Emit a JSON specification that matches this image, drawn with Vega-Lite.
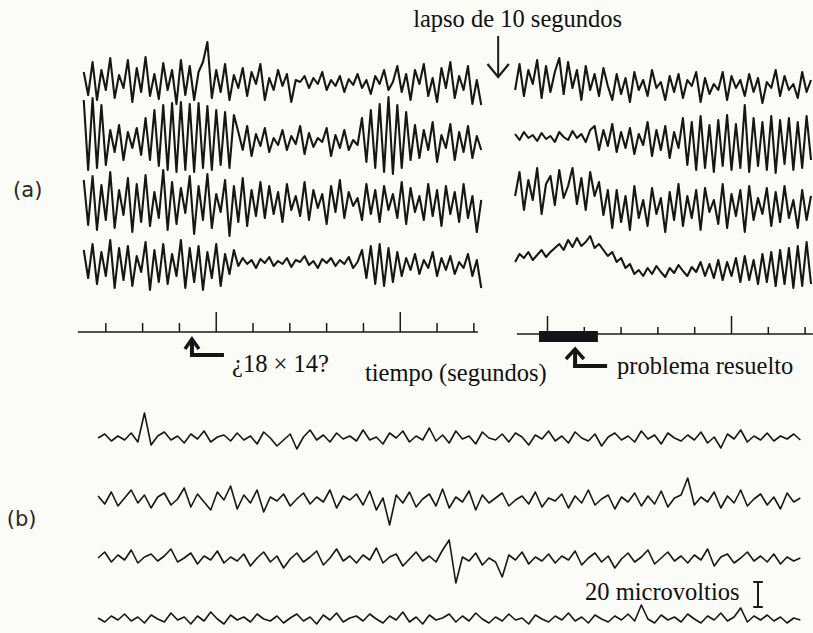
{
"$schema":"https://vega.github.io/schema/vega-lite/v6.json",
"width":813,"height":633,"autosize":"none","padding":0,
"background":"#fbfbf8",
"config":{"view":{"stroke":null}},
"datasets":{
"L1":[{"t":40,"y":72},{"t":52,"y":95},{"t":64,"y":62},{"t":76,"y":100},{"t":88,"y":70},{"t":100,"y":90},{"t":112,"y":58},{"t":124,"y":98},{"t":136,"y":75},{"t":148,"y":88},{"t":160,"y":60},{"t":172,"y":102},{"t":184,"y":68},{"t":196,"y":92},{"t":208,"y":57},{"t":220,"y":96},{"t":232,"y":74},{"t":244,"y":99},{"t":256,"y":63},{"t":268,"y":90},{"t":280,"y":70},{"t":292,"y":104},{"t":304,"y":60},{"t":316,"y":95},{"t":328,"y":66},{"t":340,"y":100},{"t":352,"y":72},{"t":364,"y":62},{"t":376,"y":42},{"t":388,"y":98},{"t":400,"y":70},{"t":412,"y":92},{"t":424,"y":64},{"t":436,"y":100},{"t":448,"y":75},{"t":460,"y":88},{"t":472,"y":68},{"t":484,"y":96},{"t":496,"y":72},{"t":508,"y":84},{"t":520,"y":64},{"t":532,"y":100},{"t":544,"y":78},{"t":556,"y":90},{"t":568,"y":70},{"t":580,"y":86},{"t":592,"y":74},{"t":604,"y":102},{"t":616,"y":80},{"t":628,"y":82},{"t":640,"y":76},{"t":652,"y":88},{"t":664,"y":78},{"t":676,"y":84},{"t":688,"y":72},{"t":700,"y":90},{"t":712,"y":80},{"t":724,"y":86},{"t":736,"y":76},{"t":748,"y":92},{"t":760,"y":79},{"t":772,"y":85},{"t":784,"y":74},{"t":796,"y":88},{"t":808,"y":80},{"t":820,"y":94},{"t":832,"y":76},{"t":844,"y":84},{"t":856,"y":70},{"t":868,"y":90},{"t":880,"y":82},{"t":892,"y":66},{"t":904,"y":92},{"t":916,"y":74},{"t":928,"y":100},{"t":940,"y":70},{"t":952,"y":84},{"t":964,"y":64},{"t":976,"y":96},{"t":988,"y":78},{"t":1000,"y":102},{"t":1012,"y":68},{"t":1024,"y":88},{"t":1036,"y":62},{"t":1048,"y":98},{"t":1060,"y":76},{"t":1072,"y":90},{"t":1084,"y":66},{"t":1096,"y":104},{"t":1108,"y":80},{"t":1120,"y":105}],
"L2":[{"t":40,"y":100},{"t":52,"y":170},{"t":64,"y":98},{"t":76,"y":168},{"t":88,"y":105},{"t":100,"y":165},{"t":112,"y":130},{"t":124,"y":152},{"t":136,"y":125},{"t":148,"y":160},{"t":160,"y":132},{"t":172,"y":148},{"t":184,"y":128},{"t":196,"y":155},{"t":208,"y":118},{"t":220,"y":160},{"t":232,"y":110},{"t":244,"y":166},{"t":256,"y":105},{"t":268,"y":170},{"t":280,"y":103},{"t":292,"y":172},{"t":304,"y":102},{"t":316,"y":170},{"t":328,"y":104},{"t":340,"y":172},{"t":352,"y":103},{"t":364,"y":168},{"t":376,"y":106},{"t":388,"y":170},{"t":400,"y":110},{"t":412,"y":165},{"t":424,"y":112},{"t":436,"y":168},{"t":448,"y":115},{"t":460,"y":132},{"t":472,"y":150},{"t":484,"y":126},{"t":496,"y":156},{"t":508,"y":134},{"t":520,"y":146},{"t":532,"y":128},{"t":544,"y":152},{"t":556,"y":138},{"t":568,"y":145},{"t":580,"y":130},{"t":592,"y":150},{"t":604,"y":136},{"t":616,"y":144},{"t":628,"y":126},{"t":640,"y":154},{"t":652,"y":133},{"t":664,"y":147},{"t":676,"y":138},{"t":688,"y":142},{"t":700,"y":128},{"t":712,"y":156},{"t":724,"y":135},{"t":736,"y":148},{"t":748,"y":130},{"t":760,"y":150},{"t":772,"y":140},{"t":784,"y":145},{"t":796,"y":118},{"t":808,"y":162},{"t":820,"y":110},{"t":832,"y":168},{"t":844,"y":104},{"t":856,"y":172},{"t":868,"y":97},{"t":880,"y":174},{"t":892,"y":105},{"t":904,"y":168},{"t":916,"y":112},{"t":928,"y":160},{"t":940,"y":125},{"t":952,"y":158},{"t":964,"y":130},{"t":976,"y":150},{"t":988,"y":122},{"t":1000,"y":162},{"t":1012,"y":135},{"t":1024,"y":148},{"t":1036,"y":124},{"t":1048,"y":160},{"t":1060,"y":132},{"t":1072,"y":152},{"t":1084,"y":126},{"t":1096,"y":158},{"t":1108,"y":136},{"t":1120,"y":150}],
"L3":[{"t":40,"y":180},{"t":52,"y":225},{"t":64,"y":176},{"t":76,"y":230},{"t":88,"y":185},{"t":100,"y":220},{"t":112,"y":172},{"t":124,"y":228},{"t":136,"y":190},{"t":148,"y":215},{"t":160,"y":178},{"t":172,"y":232},{"t":184,"y":184},{"t":196,"y":222},{"t":208,"y":175},{"t":220,"y":226},{"t":232,"y":192},{"t":244,"y":218},{"t":256,"y":170},{"t":268,"y":230},{"t":280,"y":182},{"t":292,"y":224},{"t":304,"y":188},{"t":316,"y":213},{"t":328,"y":176},{"t":340,"y":234},{"t":352,"y":186},{"t":364,"y":220},{"t":376,"y":174},{"t":388,"y":228},{"t":400,"y":194},{"t":412,"y":212},{"t":424,"y":180},{"t":436,"y":236},{"t":448,"y":186},{"t":460,"y":222},{"t":472,"y":178},{"t":484,"y":226},{"t":496,"y":190},{"t":508,"y":216},{"t":520,"y":182},{"t":532,"y":218},{"t":544,"y":186},{"t":556,"y":214},{"t":568,"y":192},{"t":580,"y":222},{"t":592,"y":184},{"t":604,"y":210},{"t":616,"y":196},{"t":628,"y":216},{"t":640,"y":182},{"t":652,"y":220},{"t":664,"y":190},{"t":676,"y":208},{"t":688,"y":194},{"t":700,"y":224},{"t":712,"y":186},{"t":724,"y":212},{"t":736,"y":180},{"t":748,"y":218},{"t":760,"y":192},{"t":772,"y":206},{"t":784,"y":198},{"t":796,"y":220},{"t":808,"y":184},{"t":820,"y":214},{"t":832,"y":190},{"t":844,"y":222},{"t":856,"y":186},{"t":868,"y":210},{"t":880,"y":194},{"t":892,"y":218},{"t":904,"y":182},{"t":916,"y":224},{"t":928,"y":188},{"t":940,"y":212},{"t":952,"y":196},{"t":964,"y":220},{"t":976,"y":184},{"t":988,"y":216},{"t":1000,"y":190},{"t":1012,"y":226},{"t":1024,"y":186},{"t":1036,"y":214},{"t":1048,"y":192},{"t":1060,"y":222},{"t":1072,"y":184},{"t":1084,"y":218},{"t":1096,"y":196},{"t":1108,"y":232},{"t":1120,"y":200}],
"L4":[{"t":40,"y":250},{"t":52,"y":278},{"t":64,"y":244},{"t":76,"y":284},{"t":88,"y":252},{"t":100,"y":276},{"t":112,"y":240},{"t":124,"y":288},{"t":136,"y":248},{"t":148,"y":280},{"t":160,"y":246},{"t":172,"y":286},{"t":184,"y":256},{"t":196,"y":272},{"t":208,"y":242},{"t":220,"y":290},{"t":232,"y":250},{"t":244,"y":282},{"t":256,"y":244},{"t":268,"y":284},{"t":280,"y":254},{"t":292,"y":276},{"t":304,"y":240},{"t":316,"y":288},{"t":328,"y":248},{"t":340,"y":282},{"t":352,"y":246},{"t":364,"y":290},{"t":376,"y":252},{"t":388,"y":278},{"t":400,"y":244},{"t":412,"y":286},{"t":424,"y":254},{"t":436,"y":274},{"t":448,"y":250},{"t":460,"y":266},{"t":472,"y":258},{"t":484,"y":264},{"t":496,"y":260},{"t":508,"y":268},{"t":520,"y":259},{"t":532,"y":263},{"t":544,"y":257},{"t":556,"y":266},{"t":568,"y":261},{"t":580,"y":264},{"t":592,"y":258},{"t":604,"y":267},{"t":616,"y":260},{"t":628,"y":262},{"t":640,"y":256},{"t":652,"y":265},{"t":664,"y":261},{"t":676,"y":268},{"t":688,"y":259},{"t":700,"y":263},{"t":712,"y":258},{"t":724,"y":266},{"t":736,"y":260},{"t":748,"y":264},{"t":760,"y":257},{"t":772,"y":268},{"t":784,"y":262},{"t":796,"y":250},{"t":808,"y":278},{"t":820,"y":246},{"t":832,"y":284},{"t":844,"y":244},{"t":856,"y":286},{"t":868,"y":248},{"t":880,"y":282},{"t":892,"y":252},{"t":904,"y":276},{"t":916,"y":258},{"t":928,"y":270},{"t":940,"y":254},{"t":952,"y":274},{"t":964,"y":260},{"t":976,"y":268},{"t":988,"y":252},{"t":1000,"y":276},{"t":1012,"y":258},{"t":1024,"y":270},{"t":1036,"y":256},{"t":1048,"y":274},{"t":1060,"y":262},{"t":1072,"y":268},{"t":1084,"y":254},{"t":1096,"y":276},{"t":1108,"y":260},{"t":1120,"y":288}],
"R1":[{"t":1212,"y":90},{"t":1224,"y":64},{"t":1236,"y":96},{"t":1248,"y":70},{"t":1260,"y":84},{"t":1272,"y":60},{"t":1284,"y":98},{"t":1296,"y":66},{"t":1308,"y":92},{"t":1320,"y":72},{"t":1332,"y":58},{"t":1344,"y":94},{"t":1356,"y":62},{"t":1368,"y":88},{"t":1380,"y":70},{"t":1392,"y":100},{"t":1404,"y":66},{"t":1416,"y":90},{"t":1428,"y":74},{"t":1440,"y":96},{"t":1452,"y":68},{"t":1464,"y":86},{"t":1476,"y":100},{"t":1488,"y":74},{"t":1500,"y":94},{"t":1512,"y":78},{"t":1524,"y":102},{"t":1536,"y":72},{"t":1548,"y":90},{"t":1560,"y":80},{"t":1572,"y":96},{"t":1584,"y":70},{"t":1596,"y":88},{"t":1608,"y":82},{"t":1620,"y":100},{"t":1632,"y":76},{"t":1644,"y":92},{"t":1656,"y":74},{"t":1668,"y":98},{"t":1680,"y":80},{"t":1692,"y":86},{"t":1704,"y":72},{"t":1716,"y":102},{"t":1728,"y":78},{"t":1740,"y":94},{"t":1752,"y":84},{"t":1764,"y":90},{"t":1776,"y":72},{"t":1788,"y":100},{"t":1800,"y":76},{"t":1812,"y":88},{"t":1824,"y":80},{"t":1836,"y":96},{"t":1848,"y":74},{"t":1860,"y":92},{"t":1872,"y":78},{"t":1884,"y":103},{"t":1896,"y":82},{"t":1908,"y":88},{"t":1920,"y":70},{"t":1932,"y":96},{"t":1944,"y":76},{"t":1956,"y":90},{"t":1968,"y":84},{"t":1980,"y":98},{"t":1992,"y":72},{"t":2004,"y":92},{"t":2016,"y":80}],
"R2":[{"t":1212,"y":134},{"t":1224,"y":140},{"t":1236,"y":132},{"t":1248,"y":138},{"t":1260,"y":135},{"t":1272,"y":141},{"t":1284,"y":133},{"t":1296,"y":139},{"t":1308,"y":136},{"t":1320,"y":142},{"t":1332,"y":132},{"t":1344,"y":137},{"t":1356,"y":140},{"t":1368,"y":131},{"t":1380,"y":138},{"t":1392,"y":134},{"t":1404,"y":142},{"t":1416,"y":130},{"t":1428,"y":126},{"t":1440,"y":150},{"t":1452,"y":130},{"t":1464,"y":146},{"t":1476,"y":124},{"t":1488,"y":152},{"t":1500,"y":132},{"t":1512,"y":148},{"t":1524,"y":128},{"t":1536,"y":154},{"t":1548,"y":134},{"t":1560,"y":145},{"t":1572,"y":122},{"t":1584,"y":156},{"t":1596,"y":130},{"t":1608,"y":150},{"t":1620,"y":126},{"t":1632,"y":158},{"t":1644,"y":132},{"t":1656,"y":148},{"t":1668,"y":118},{"t":1680,"y":165},{"t":1692,"y":122},{"t":1704,"y":170},{"t":1716,"y":116},{"t":1728,"y":168},{"t":1740,"y":125},{"t":1752,"y":172},{"t":1764,"y":120},{"t":1776,"y":166},{"t":1788,"y":115},{"t":1800,"y":170},{"t":1812,"y":124},{"t":1824,"y":168},{"t":1836,"y":105},{"t":1848,"y":172},{"t":1860,"y":118},{"t":1872,"y":166},{"t":1884,"y":122},{"t":1896,"y":170},{"t":1908,"y":116},{"t":1920,"y":173},{"t":1932,"y":120},{"t":1944,"y":164},{"t":1956,"y":118},{"t":1968,"y":170},{"t":1980,"y":122},{"t":1992,"y":168},{"t":2004,"y":116},{"t":2016,"y":160}],
"R3":[{"t":1212,"y":196},{"t":1224,"y":172},{"t":1236,"y":210},{"t":1248,"y":180},{"t":1260,"y":200},{"t":1272,"y":168},{"t":1284,"y":214},{"t":1296,"y":184},{"t":1308,"y":176},{"t":1320,"y":205},{"t":1332,"y":170},{"t":1344,"y":198},{"t":1356,"y":186},{"t":1368,"y":168},{"t":1380,"y":204},{"t":1392,"y":178},{"t":1404,"y":210},{"t":1416,"y":172},{"t":1428,"y":196},{"t":1440,"y":182},{"t":1452,"y":215},{"t":1464,"y":190},{"t":1476,"y":228},{"t":1488,"y":190},{"t":1500,"y":222},{"t":1512,"y":196},{"t":1524,"y":230},{"t":1536,"y":186},{"t":1548,"y":218},{"t":1560,"y":200},{"t":1572,"y":226},{"t":1584,"y":188},{"t":1596,"y":214},{"t":1608,"y":198},{"t":1620,"y":232},{"t":1632,"y":192},{"t":1644,"y":220},{"t":1656,"y":184},{"t":1668,"y":226},{"t":1680,"y":196},{"t":1692,"y":218},{"t":1704,"y":190},{"t":1716,"y":230},{"t":1728,"y":188},{"t":1740,"y":212},{"t":1752,"y":200},{"t":1764,"y":224},{"t":1776,"y":184},{"t":1788,"y":228},{"t":1800,"y":194},{"t":1812,"y":216},{"t":1824,"y":190},{"t":1836,"y":232},{"t":1848,"y":186},{"t":1860,"y":220},{"t":1872,"y":198},{"t":1884,"y":214},{"t":1896,"y":188},{"t":1908,"y":226},{"t":1920,"y":192},{"t":1932,"y":222},{"t":1944,"y":186},{"t":1956,"y":218},{"t":1968,"y":200},{"t":1980,"y":228},{"t":1992,"y":190},{"t":2004,"y":220},{"t":2016,"y":196}],
"R4":[{"t":1212,"y":262},{"t":1224,"y":254},{"t":1236,"y":258},{"t":1248,"y":252},{"t":1260,"y":260},{"t":1272,"y":255},{"t":1284,"y":250},{"t":1296,"y":257},{"t":1308,"y":252},{"t":1320,"y":248},{"t":1332,"y":244},{"t":1344,"y":250},{"t":1356,"y":240},{"t":1368,"y":247},{"t":1380,"y":238},{"t":1392,"y":246},{"t":1404,"y":242},{"t":1416,"y":236},{"t":1428,"y":248},{"t":1440,"y":244},{"t":1452,"y":250},{"t":1464,"y":256},{"t":1476,"y":252},{"t":1488,"y":262},{"t":1500,"y":258},{"t":1512,"y":268},{"t":1524,"y":264},{"t":1536,"y":274},{"t":1548,"y":270},{"t":1560,"y":276},{"t":1572,"y":268},{"t":1584,"y":274},{"t":1596,"y":266},{"t":1608,"y":272},{"t":1620,"y":277},{"t":1632,"y":268},{"t":1644,"y":273},{"t":1656,"y":265},{"t":1668,"y":271},{"t":1680,"y":276},{"t":1692,"y":267},{"t":1704,"y":272},{"t":1716,"y":262},{"t":1728,"y":276},{"t":1740,"y":264},{"t":1752,"y":278},{"t":1764,"y":260},{"t":1776,"y":280},{"t":1788,"y":262},{"t":1800,"y":276},{"t":1812,"y":258},{"t":1824,"y":282},{"t":1836,"y":256},{"t":1848,"y":280},{"t":1860,"y":260},{"t":1872,"y":284},{"t":1884,"y":254},{"t":1896,"y":282},{"t":1908,"y":252},{"t":1920,"y":286},{"t":1932,"y":250},{"t":1944,"y":284},{"t":1956,"y":248},{"t":1968,"y":288},{"t":1980,"y":246},{"t":1992,"y":286},{"t":2004,"y":242},{"t":2016,"y":284}],
"B1":[{"t":79,"y":438},{"t":97,"y":434},{"t":115,"y":441},{"t":133,"y":436},{"t":151,"y":440},{"t":169,"y":433},{"t":187,"y":442},{"t":205,"y":413},{"t":223,"y":445},{"t":241,"y":436},{"t":259,"y":432},{"t":277,"y":440},{"t":295,"y":436},{"t":313,"y":443},{"t":331,"y":434},{"t":349,"y":439},{"t":367,"y":431},{"t":385,"y":442},{"t":403,"y":437},{"t":421,"y":435},{"t":439,"y":441},{"t":457,"y":433},{"t":475,"y":440},{"t":493,"y":436},{"t":511,"y":444},{"t":529,"y":432},{"t":547,"y":438},{"t":565,"y":446},{"t":583,"y":440},{"t":601,"y":434},{"t":619,"y":449},{"t":637,"y":437},{"t":655,"y":430},{"t":673,"y":440},{"t":691,"y":435},{"t":709,"y":442},{"t":727,"y":433},{"t":745,"y":439},{"t":763,"y":436},{"t":781,"y":441},{"t":799,"y":430},{"t":817,"y":440},{"t":835,"y":437},{"t":853,"y":444},{"t":871,"y":433},{"t":889,"y":438},{"t":907,"y":431},{"t":925,"y":442},{"t":943,"y":436},{"t":961,"y":440},{"t":979,"y":428},{"t":997,"y":441},{"t":1015,"y":435},{"t":1033,"y":443},{"t":1051,"y":431},{"t":1069,"y":439},{"t":1087,"y":436},{"t":1105,"y":444},{"t":1123,"y":432},{"t":1141,"y":438},{"t":1159,"y":440},{"t":1177,"y":434},{"t":1195,"y":442},{"t":1213,"y":433},{"t":1231,"y":437},{"t":1249,"y":445},{"t":1267,"y":435},{"t":1285,"y":439},{"t":1303,"y":431},{"t":1321,"y":441},{"t":1339,"y":436},{"t":1357,"y":443},{"t":1375,"y":432},{"t":1393,"y":438},{"t":1411,"y":441},{"t":1429,"y":434},{"t":1447,"y":446},{"t":1465,"y":437},{"t":1483,"y":433},{"t":1501,"y":440},{"t":1519,"y":436},{"t":1537,"y":442},{"t":1555,"y":431},{"t":1573,"y":439},{"t":1591,"y":435},{"t":1609,"y":444},{"t":1627,"y":433},{"t":1645,"y":438},{"t":1663,"y":441},{"t":1681,"y":435},{"t":1699,"y":440},{"t":1717,"y":432},{"t":1735,"y":443},{"t":1753,"y":437},{"t":1771,"y":448},{"t":1789,"y":434},{"t":1807,"y":439},{"t":1825,"y":430},{"t":1843,"y":442},{"t":1861,"y":436},{"t":1879,"y":440},{"t":1897,"y":433},{"t":1915,"y":441},{"t":1933,"y":436},{"t":1951,"y":439},{"t":1969,"y":434},{"t":1987,"y":440}],
"B2":[{"t":79,"y":496},{"t":97,"y":504},{"t":115,"y":492},{"t":133,"y":506},{"t":151,"y":498},{"t":169,"y":490},{"t":187,"y":503},{"t":205,"y":495},{"t":223,"y":508},{"t":241,"y":497},{"t":259,"y":493},{"t":277,"y":505},{"t":295,"y":499},{"t":313,"y":488},{"t":331,"y":507},{"t":349,"y":494},{"t":367,"y":502},{"t":385,"y":510},{"t":403,"y":492},{"t":421,"y":500},{"t":439,"y":486},{"t":457,"y":509},{"t":475,"y":495},{"t":493,"y":503},{"t":511,"y":490},{"t":529,"y":512},{"t":547,"y":497},{"t":565,"y":501},{"t":583,"y":494},{"t":601,"y":506},{"t":619,"y":499},{"t":637,"y":493},{"t":655,"y":504},{"t":673,"y":497},{"t":691,"y":502},{"t":709,"y":490},{"t":727,"y":508},{"t":745,"y":496},{"t":763,"y":500},{"t":781,"y":494},{"t":799,"y":505},{"t":817,"y":491},{"t":835,"y":510},{"t":853,"y":498},{"t":871,"y":525},{"t":889,"y":495},{"t":907,"y":503},{"t":925,"y":492},{"t":943,"y":507},{"t":961,"y":499},{"t":979,"y":494},{"t":997,"y":506},{"t":1015,"y":489},{"t":1033,"y":508},{"t":1051,"y":497},{"t":1069,"y":502},{"t":1087,"y":491},{"t":1105,"y":510},{"t":1123,"y":495},{"t":1141,"y":503},{"t":1159,"y":498},{"t":1177,"y":493},{"t":1195,"y":506},{"t":1213,"y":500},{"t":1231,"y":496},{"t":1249,"y":504},{"t":1267,"y":492},{"t":1285,"y":507},{"t":1303,"y":498},{"t":1321,"y":501},{"t":1339,"y":494},{"t":1357,"y":508},{"t":1375,"y":496},{"t":1393,"y":503},{"t":1411,"y":490},{"t":1429,"y":505},{"t":1447,"y":499},{"t":1465,"y":495},{"t":1483,"y":509},{"t":1501,"y":497},{"t":1519,"y":502},{"t":1537,"y":493},{"t":1555,"y":506},{"t":1573,"y":496},{"t":1591,"y":504},{"t":1609,"y":491},{"t":1627,"y":507},{"t":1645,"y":498},{"t":1663,"y":495},{"t":1681,"y":478},{"t":1699,"y":505},{"t":1717,"y":497},{"t":1735,"y":502},{"t":1753,"y":492},{"t":1771,"y":508},{"t":1789,"y":496},{"t":1807,"y":503},{"t":1825,"y":490},{"t":1843,"y":506},{"t":1861,"y":499},{"t":1879,"y":494},{"t":1897,"y":505},{"t":1915,"y":497},{"t":1933,"y":509},{"t":1951,"y":493},{"t":1969,"y":502},{"t":1987,"y":498}],
"B3":[{"t":79,"y":558},{"t":97,"y":552},{"t":115,"y":562},{"t":133,"y":555},{"t":151,"y":560},{"t":169,"y":550},{"t":187,"y":563},{"t":205,"y":557},{"t":223,"y":554},{"t":241,"y":561},{"t":259,"y":556},{"t":277,"y":549},{"t":295,"y":562},{"t":313,"y":558},{"t":331,"y":553},{"t":349,"y":564},{"t":367,"y":556},{"t":385,"y":560},{"t":403,"y":551},{"t":421,"y":563},{"t":439,"y":557},{"t":457,"y":561},{"t":475,"y":554},{"t":493,"y":566},{"t":511,"y":558},{"t":529,"y":552},{"t":547,"y":562},{"t":565,"y":556},{"t":583,"y":568},{"t":601,"y":559},{"t":619,"y":553},{"t":637,"y":562},{"t":655,"y":557},{"t":673,"y":551},{"t":691,"y":565},{"t":709,"y":558},{"t":727,"y":549},{"t":745,"y":561},{"t":763,"y":556},{"t":781,"y":563},{"t":799,"y":555},{"t":817,"y":560},{"t":835,"y":548},{"t":853,"y":563},{"t":871,"y":557},{"t":889,"y":554},{"t":907,"y":566},{"t":925,"y":559},{"t":943,"y":552},{"t":961,"y":561},{"t":979,"y":556},{"t":997,"y":562},{"t":1015,"y":550},{"t":1033,"y":540},{"t":1051,"y":583},{"t":1069,"y":557},{"t":1087,"y":561},{"t":1105,"y":553},{"t":1123,"y":565},{"t":1141,"y":558},{"t":1159,"y":562},{"t":1177,"y":577},{"t":1195,"y":555},{"t":1213,"y":560},{"t":1231,"y":552},{"t":1249,"y":564},{"t":1267,"y":557},{"t":1285,"y":561},{"t":1303,"y":554},{"t":1321,"y":563},{"t":1339,"y":556},{"t":1357,"y":560},{"t":1375,"y":551},{"t":1393,"y":565},{"t":1411,"y":558},{"t":1429,"y":553},{"t":1447,"y":562},{"t":1465,"y":556},{"t":1483,"y":568},{"t":1501,"y":559},{"t":1519,"y":553},{"t":1537,"y":562},{"t":1555,"y":557},{"t":1573,"y":550},{"t":1591,"y":564},{"t":1609,"y":558},{"t":1627,"y":552},{"t":1645,"y":561},{"t":1663,"y":556},{"t":1681,"y":563},{"t":1699,"y":555},{"t":1717,"y":560},{"t":1735,"y":549},{"t":1753,"y":566},{"t":1771,"y":557},{"t":1789,"y":554},{"t":1807,"y":563},{"t":1825,"y":558},{"t":1843,"y":552},{"t":1861,"y":561},{"t":1879,"y":556},{"t":1897,"y":562},{"t":1915,"y":554},{"t":1933,"y":564},{"t":1951,"y":557},{"t":1969,"y":561},{"t":1987,"y":558}],
"B4":[{"t":79,"y":618},{"t":97,"y":622},{"t":115,"y":616},{"t":133,"y":620},{"t":151,"y":614},{"t":169,"y":621},{"t":187,"y":617},{"t":205,"y":623},{"t":223,"y":615},{"t":241,"y":619},{"t":259,"y":622},{"t":277,"y":613},{"t":295,"y":620},{"t":313,"y":617},{"t":331,"y":624},{"t":349,"y":616},{"t":367,"y":621},{"t":385,"y":612},{"t":403,"y":619},{"t":421,"y":624},{"t":439,"y":615},{"t":457,"y":620},{"t":475,"y":617},{"t":493,"y":622},{"t":511,"y":614},{"t":529,"y":619},{"t":547,"y":621},{"t":565,"y":616},{"t":583,"y":623},{"t":601,"y":618},{"t":619,"y":614},{"t":637,"y":621},{"t":655,"y":617},{"t":673,"y":624},{"t":691,"y":615},{"t":709,"y":620},{"t":727,"y":613},{"t":745,"y":622},{"t":763,"y":618},{"t":781,"y":616},{"t":799,"y":621},{"t":817,"y":614},{"t":835,"y":619},{"t":853,"y":623},{"t":871,"y":616},{"t":889,"y":620},{"t":907,"y":612},{"t":925,"y":622},{"t":943,"y":617},{"t":961,"y":624},{"t":979,"y":615},{"t":997,"y":620},{"t":1015,"y":618},{"t":1033,"y":614},{"t":1051,"y":622},{"t":1069,"y":616},{"t":1087,"y":621},{"t":1105,"y":613},{"t":1123,"y":619},{"t":1141,"y":623},{"t":1159,"y":617},{"t":1177,"y":621},{"t":1195,"y":614},{"t":1213,"y":620},{"t":1231,"y":618},{"t":1249,"y":624},{"t":1267,"y":615},{"t":1285,"y":619},{"t":1303,"y":622},{"t":1321,"y":616},{"t":1339,"y":620},{"t":1357,"y":613},{"t":1375,"y":621},{"t":1393,"y":617},{"t":1411,"y":623},{"t":1429,"y":615},{"t":1447,"y":619},{"t":1465,"y":622},{"t":1483,"y":616},{"t":1501,"y":620},{"t":1519,"y":614},{"t":1537,"y":621},{"t":1555,"y":605},{"t":1573,"y":619},{"t":1591,"y":623},{"t":1609,"y":615},{"t":1627,"y":620},{"t":1645,"y":617},{"t":1663,"y":622},{"t":1681,"y":614},{"t":1699,"y":619},{"t":1717,"y":623},{"t":1735,"y":616},{"t":1753,"y":620},{"t":1771,"y":613},{"t":1789,"y":621},{"t":1807,"y":617},{"t":1825,"y":608},{"t":1843,"y":622},{"t":1861,"y":616},{"t":1879,"y":620},{"t":1897,"y":615},{"t":1915,"y":621},{"t":1933,"y":617},{"t":1951,"y":623},{"t":1969,"y":618},{"t":1987,"y":620}]
},
"encoding":{
"x":{"field":"t","type":"quantitative","axis":null,"scale":{"domain":[-187.5,2021.4],"nice":false,"zero":false}},
"y":{"field":"y","type":"quantitative","axis":null,"scale":{"domain":[0,633],"reverse":true,"nice":false,"zero":false}}
},
"layer":[
{"data":{"name":"L1"},"mark":{"type":"line","color":"#161616","strokeWidth":2.1,"strokeJoin":"round"}},
{"data":{"name":"L2"},"mark":{"type":"line","color":"#161616","strokeWidth":2.1,"strokeJoin":"round"}},
{"data":{"name":"L3"},"mark":{"type":"line","color":"#161616","strokeWidth":2.1,"strokeJoin":"round"}},
{"data":{"name":"L4"},"mark":{"type":"line","color":"#161616","strokeWidth":2.1,"strokeJoin":"round"}},
{"data":{"name":"R1"},"mark":{"type":"line","color":"#161616","strokeWidth":2.1,"strokeJoin":"round"}},
{"data":{"name":"R2"},"mark":{"type":"line","color":"#161616","strokeWidth":2.1,"strokeJoin":"round"}},
{"data":{"name":"R3"},"mark":{"type":"line","color":"#161616","strokeWidth":2.1,"strokeJoin":"round"}},
{"data":{"name":"R4"},"mark":{"type":"line","color":"#161616","strokeWidth":2.1,"strokeJoin":"round"}},
{"data":{"name":"B1"},"mark":{"type":"line","color":"#161616","strokeWidth":1.6,"strokeJoin":"round"}},
{"data":{"name":"B2"},"mark":{"type":"line","color":"#161616","strokeWidth":1.6,"strokeJoin":"round"}},
{"data":{"name":"B3"},"mark":{"type":"line","color":"#161616","strokeWidth":1.6,"strokeJoin":"round"}},
{"data":{"name":"B4"},"mark":{"type":"line","color":"#161616","strokeWidth":1.6,"strokeJoin":"round"}},
{"data":{"values":[{"t":24,"t2":1111,"y":332},{"t":1217,"t2":2021,"y":334}]},"mark":{"type":"rule","color":"#1a1a1a","strokeWidth":1.5},"encoding":{"x2":{"field":"t2"}}},
{"data":{"values":[{"t":100,"y":332,"y2":323},{"t":200,"y":332,"y2":323},{"t":300,"y":332,"y2":323},{"t":400,"y":332,"y2":312},{"t":500,"y":332,"y2":323},{"t":600,"y":332,"y2":323},{"t":700,"y":332,"y2":323},{"t":800,"y":332,"y2":323},{"t":900,"y":332,"y2":312},{"t":1000,"y":332,"y2":323},{"t":1100,"y":332,"y2":323},{"t":1300,"y":334,"y2":316},{"t":1400,"y":334,"y2":327},{"t":1500,"y":334,"y2":327},{"t":1600,"y":334,"y2":327},{"t":1700,"y":334,"y2":327},{"t":1800,"y":334,"y2":316},{"t":1900,"y":334,"y2":327},{"t":2000,"y":334,"y2":327}]},"mark":{"type":"rule","color":"#1a1a1a","strokeWidth":1.5},"encoding":{"y2":{"field":"y2"}}},
{"data":{"values":[{"t":1277,"t2":1437,"y":331,"y2":342}]},"mark":{"type":"rect","color":"#151515"},"encoding":{"x2":{"field":"t2"},"y2":{"field":"y2"}}},
{"data":{"values":[{"t":334,"y":341,"y2":357},{"t":1375,"y":351,"y2":368}]},"mark":{"type":"rule","color":"#151515","strokeWidth":4},"encoding":{"y2":{"field":"y2"}}},
{"data":{"values":[{"t":329,"t2":421,"y":355},{"t":1370,"t2":1462,"y":366}]},"mark":{"type":"rule","color":"#151515","strokeWidth":4},"encoding":{"x2":{"field":"t2"}}},
{"data":{"values":[{"g":1,"t":315,"y":349},{"g":1,"t":334,"y":339},{"g":1,"t":353,"y":349},{"g":2,"t":1350,"y":359},{"g":2,"t":1375,"y":349},{"g":2,"t":1399,"y":359}]},"mark":{"type":"line","color":"#151515","strokeWidth":3.5},"encoding":{"detail":{"field":"g"}}},
{"data":{"values":[{"t":1166,"y":36,"y2":76},{"t":1872,"y":582,"y2":607}]},"mark":{"type":"rule","color":"#1a1a1a","strokeWidth":2},"encoding":{"y2":{"field":"y2"}}},
{"data":{"values":[{"t":1859,"t2":1885,"y":582},{"t":1859,"t2":1885,"y":607}]},"mark":{"type":"rule","color":"#1a1a1a","strokeWidth":2},"encoding":{"x2":{"field":"t2"}}},
{"data":{"values":[{"g":3,"t":1137,"y":64},{"g":3,"t":1166,"y":77},{"g":3,"t":1195,"y":64}]},"mark":{"type":"line","color":"#1a1a1a","strokeWidth":2.2},"encoding":{"detail":{"field":"g"}}},
{"data":{"values":[{"t":935,"y":27,"s":"lapso de 10 segundos"},{"t":443,"y":372,"s":"¿18 × 14?"},{"t":804,"y":381,"s":"tiempo (segundos)"},{"t":1489,"y":374,"s":"problema resuelto"},{"t":1402,"y":600,"s":"20 microvoltios"}]},"mark":{"type":"text","align":"left","baseline":"alphabetic","font":"Liberation Serif","fontSize":24.5,"color":"#111"},"encoding":{"text":{"field":"s"}}},
{"data":{"values":[{"t":-152,"y":197,"s":"(a)"},{"t":-169,"y":526,"s":"(b)"}]},"mark":{"type":"text","align":"left","baseline":"alphabetic","font":"DejaVu Sans","fontSize":21,"color":"#2a2a2a"},"encoding":{"text":{"field":"s"}}}
]
}
